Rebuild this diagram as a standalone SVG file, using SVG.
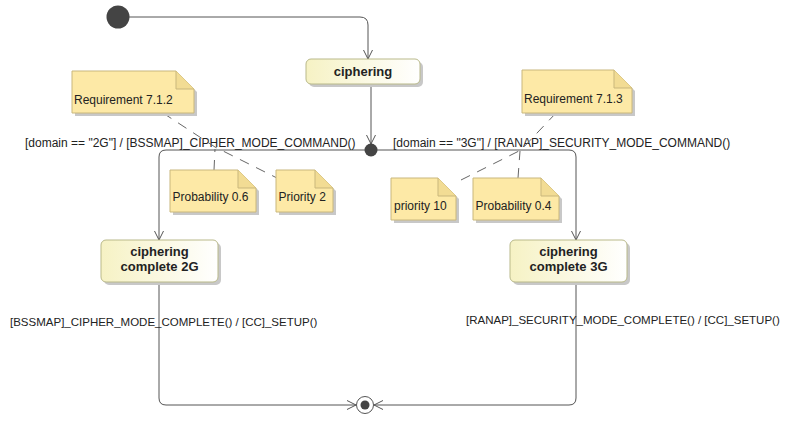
<svg xmlns="http://www.w3.org/2000/svg" width="789" height="421" viewBox="0 0 789 421">
  <defs>
    <linearGradient id="stateFill" x1="0" y1="0" x2="1" y2="0">
      <stop offset="0" stop-color="#f6f2c4"/>
      <stop offset="1" stop-color="#ffffff"/>
    </linearGradient>
    <marker id="open" viewBox="0 0 10 10" refX="10" refY="5" markerWidth="10" markerHeight="10" markerUnits="userSpaceOnUse" orient="auto">
      <path d="M1,0.5 L10,5 L1,9.5" fill="none" stroke="#555" stroke-width="1"/>
    </marker>
  </defs>
  <style>
    .lbl { font-family: "Liberation Sans", Arial, sans-serif; font-size: 12px; fill: #222; }
    .sm { font-size: 11.5px; }
    .name { font-family: "Liberation Sans", Arial, sans-serif; font-size: 13px; font-weight: bold; fill: #222; text-anchor: middle; }
    .state { fill: url(#stateFill); stroke: #b9b98a; stroke-width: 1; }
    .shadow { fill: #c8c8c8; }
    .note { fill: #fde9a6; stroke: #c9b77c; stroke-width: 1; }
    .fold { fill: #f2dc94; stroke: #c9b77c; stroke-width: 1; }
    .edge { fill: none; stroke: #555; stroke-width: 1; }
    .anchor { fill: none; stroke: #666; stroke-width: 1; stroke-dasharray: 10 8; }
  </style>

  <rect width="789" height="421" fill="#ffffff"/>

  <!-- connectors -->
  <g id="connectors">
    <path class="edge" d="M129,17 H360 Q368,17 368,25 V59" marker-end="url(#open)"/>
    <path class="edge" d="M371,84 V144" marker-end="url(#open)"/>
    <path class="edge" d="M365,150 H166 Q159,150 159,157 V240" marker-end="url(#open)"/>
    <path class="edge" d="M377,150 H569 Q576,150 576,157 V240" marker-end="url(#open)"/>
    <path class="edge" d="M159,282 V398 Q159,405 166,405 H356" marker-end="url(#open)"/>
    <path class="edge" d="M576,282 V398 Q576,405 569,405 H374" marker-end="url(#open)"/>

    <text class="lbl" x="25" y="147">[domain == "2G"] / [BSSMAP]_CIPHER_MODE_COMMAND()</text>
    <text class="lbl" x="393" y="147">[domain == "3G"] / [RANAP]_SECURITY_MODE_COMMAND()</text>
    <text class="lbl sm" x="10" y="326">[BSSMAP]_CIPHER_MODE_COMPLETE() / [CC]_SETUP()</text>
    <text class="lbl sm" x="466" y="324">[RANAP]_SECURITY_MODE_COMPLETE() / [CC]_SETUP()</text>

    <!-- note anchors -->
    <path class="anchor" d="M163,113 L215,147 L277,178"/>
    <path class="anchor" d="M214,170 L215,149"/>
    <path class="anchor" d="M556,113 L521,150 L455,183"/>
    <path class="anchor" d="M518,178 L520,151"/>
  </g>

  <!-- pseudo states -->
  <g id="initial">
    <circle cx="118" cy="17" r="11.5" fill="#444"/>
  </g>
  <g id="junction">
    <circle cx="371" cy="150" r="6.5" fill="#444"/>
  </g>
  <g id="final">
    <circle cx="365" cy="405" r="8.5" fill="#fff" stroke="#555" stroke-width="1"/>
    <circle cx="365" cy="405" r="4.5" fill="#444"/>
  </g>

  <!-- states -->
  <g id="ciphering">
    <rect class="shadow" x="309" y="62" width="114" height="25" rx="5"/>
    <rect class="state" x="306" y="59" width="114" height="25" rx="5"/>
    <text class="name" x="363" y="76">ciphering</text>
  </g>
  <g id="complete2G">
    <rect class="shadow" x="104" y="243" width="117" height="42" rx="5"/>
    <rect class="state" x="101" y="240" width="117" height="42" rx="5"/>
    <text class="name" x="159.5" y="256">ciphering</text>
    <text class="name" x="159.5" y="271">complete 2G</text>
  </g>
  <g id="complete3G">
    <rect class="shadow" x="513" y="243" width="117" height="42" rx="5"/>
    <rect class="state" x="510" y="240" width="117" height="42" rx="5"/>
    <text class="name" x="568.5" y="256">ciphering</text>
    <text class="name" x="568.5" y="271">complete 3G</text>
  </g>

  <!-- notes -->
  <g id="req712">
    <path class="shadow" d="M75,74 H179 L197,92 V116 H75 Z"/>
    <path class="note" d="M72,71 H176 L194,89 V113 H72 Z"/>
    <path class="fold" d="M176,71 V89 H194"/>
    <text class="lbl" x="74" y="104">Requirement 7.1.2</text>
  </g>
  <g id="prob06">
    <path class="shadow" d="M173,173 H241 L259,191 V215 H173 Z"/>
    <path class="note" d="M170,170 H238 L256,188 V212 H170 Z"/>
    <path class="fold" d="M238,170 V188 H256"/>
    <text class="lbl" x="172.5" y="201">Probability 0.6</text>
  </g>
  <g id="prio2">
    <path class="shadow" d="M279,173 H318 L336,191 V215 H279 Z"/>
    <path class="note" d="M276,170 H315 L333,188 V212 H276 Z"/>
    <path class="fold" d="M315,170 V188 H333"/>
    <text class="lbl" x="278.5" y="201">Priority 2</text>
  </g>
  <g id="req713">
    <path class="shadow" d="M525,73 H617 L635,91 V116 H525 Z"/>
    <path class="note" d="M522,70 H614 L632,88 V113 H522 Z"/>
    <path class="fold" d="M614,70 V88 H632"/>
    <text class="lbl" x="524" y="103">Requirement 7.1.3</text>
  </g>
  <g id="prio10">
    <path class="shadow" d="M394,181 H441 L459,199 V223 H394 Z"/>
    <path class="note" d="M391,178 H438 L456,196 V220 H391 Z"/>
    <path class="fold" d="M438,178 V196 H456"/>
    <text class="lbl" x="394" y="210">priority 10</text>
  </g>
  <g id="prob04">
    <path class="shadow" d="M476,181 H544 L562,199 V223 H476 Z"/>
    <path class="note" d="M473,178 H541 L559,196 V220 H473 Z"/>
    <path class="fold" d="M541,178 V196 H559"/>
    <text class="lbl" x="475.5" y="210">Probability 0.4</text>
  </g>
</svg>
